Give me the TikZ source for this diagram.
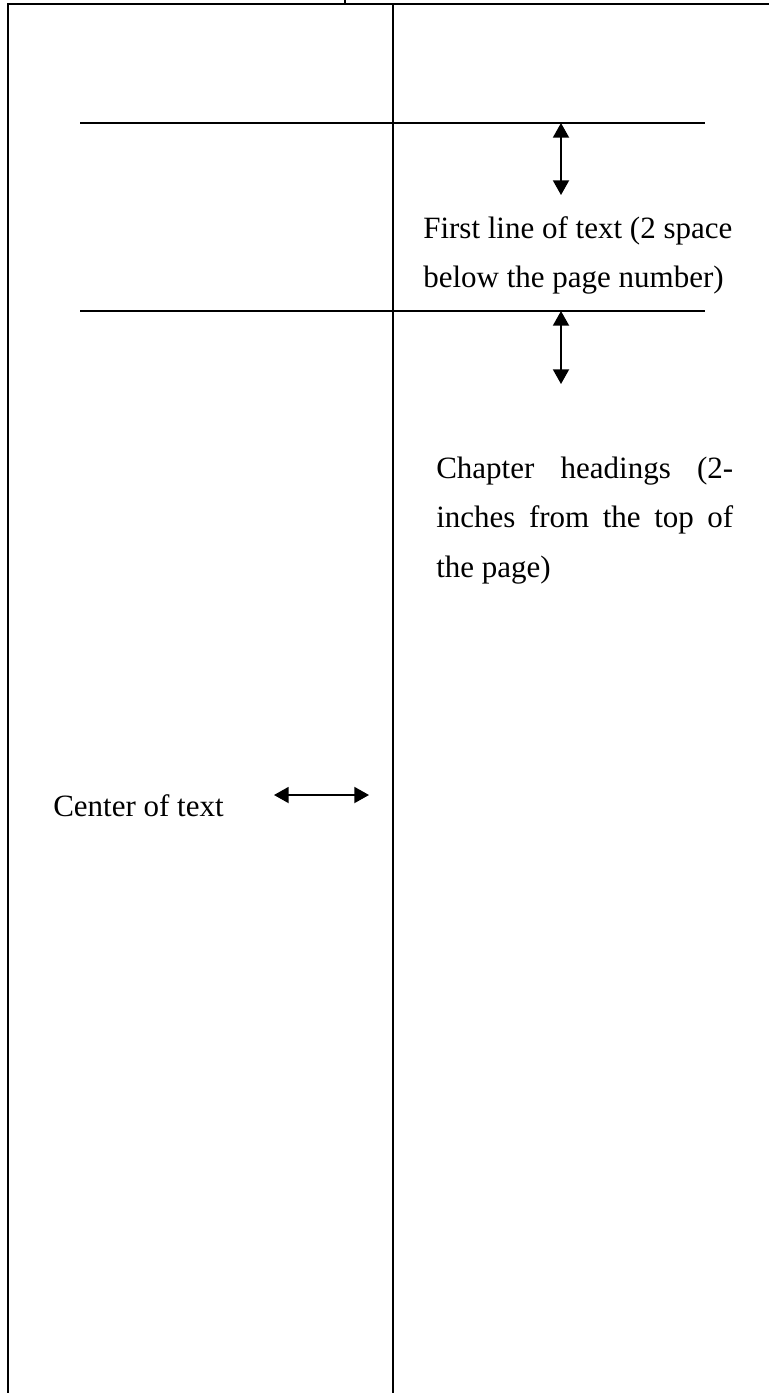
\documentclass[tikz,border=0pt]{standalone}
\usepackage{fontspec}
\setmainfont{Liberation Serif}
\usetikzlibrary{arrows.meta}
\begin{document}
\begin{tikzpicture}[x=0.75pt,y=-0.75pt,
  rule/.style={line width=1.1pt},
  dimarrow/.style={line width=1.4pt,{Triangle[width=12pt,length=11pt]}-{Triangle[width=12pt,length=11pt]}},
  lbl/.style={inner sep=0pt,anchor=base west,font=\fontsize{23.25}{36.75}\selectfont}]
\useasboundingbox (0,0) rectangle (768,1393);
% frame
\coordinate (tl) at (8,4);
\coordinate (tr) at (772,4);
\coordinate (bl) at (8,1396);
\coordinate (ct) at (393,4);
\coordinate (cb) at (393,1396);
\coordinate (tick0) at (345,-2);
\coordinate (tick1) at (345,4);
\draw[rule] (tr) -- (tl) -- (bl);
\draw[rule] (ct) -- (cb);
\draw[rule] (tick0) -- (tick1);
% horizontal rules
\coordinate (h1a) at (80,123);
\coordinate (h1b) at (705,123);
\coordinate (h2a) at (80,311);
\coordinate (h2b) at (705,311);
\draw[rule] (h1a) -- (h1b);
\draw[rule] (h2a) -- (h2b);
% arrows
\coordinate (a1t) at (561,123);
\coordinate (a1b) at (561,195);
\coordinate (a2t) at (561,311);
\coordinate (a2b) at (561,384);
\coordinate (a3l) at (274,795);
\coordinate (a3r) at (369,795);
\draw[dimarrow] (a1t) -- (a1b);
\draw[dimarrow] (a2t) -- (a2b);
\draw[dimarrow] (a3l) -- (a3r);
% texts
\node[lbl] (f1) at (423,238) {First line of text (2 space};
\node[lbl] (f2) at (423,287) {below the page number)};
\node[lbl] (c1) at (436,478) {\makebox[222.75pt][s]{Chapter headings (2-}};
\node[lbl] (c2) at (436,527) {\makebox[222.75pt][s]{inches from the top of}};
\node[lbl] (c3) at (436,577) {the page)};
\node[lbl] (ctr) at (53,816) {Center of text};
\end{tikzpicture}
\end{document}
